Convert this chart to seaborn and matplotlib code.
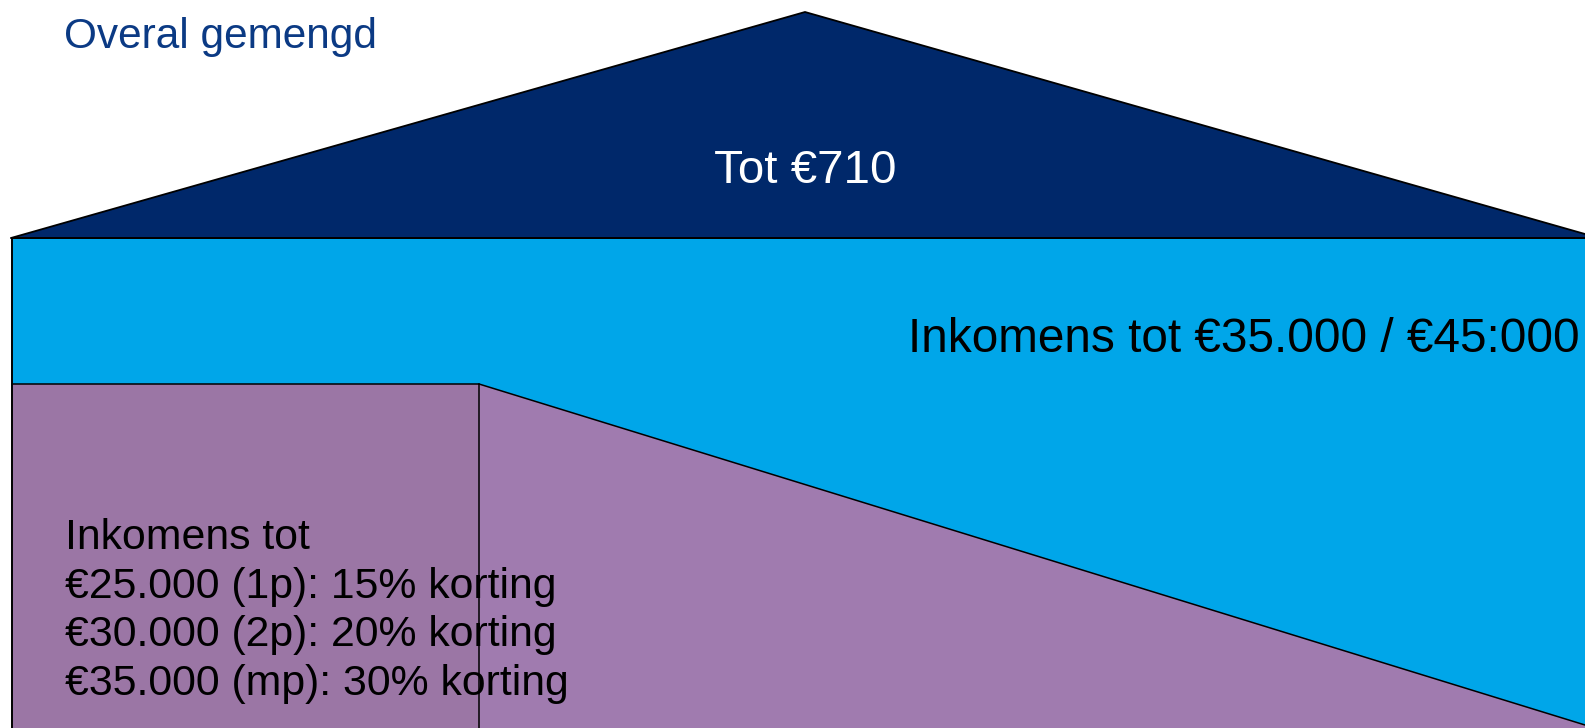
import matplotlib.pyplot as plt
import seaborn as sns

# Diagram layout in picture units (x to the right, y downwards), 1585 x 728
width, height = 1585, 728

# roof (overall mixed segment)
roof_x = [11, 805, 1599]
roof_y = [238, 12, 238]

# middle tier (incomes up to 35k/45k)
band_left = 12
band_top = 238

# lowest tier (discount block + sloped part)
low_split_x = 479
low_top = 384
slope_end_y = 725

title_text = "Overal gemengd"
roof_label = "Tot €710"
band_label = "Inkomens tot €35.000 / €45:000"
low_lines = [
    "Inkomens tot",
    "€25.000 (1p): 15% korting",
    "€30.000 (2p): 20% korting",
    "€35.000 (mp): 30% korting",
]

navy = "#00286A"
sky = "#00A6E9"
purple_left = "#9B76A5"
purple_right = "#A07BAF"
title_color = "#0B3A84"


def draw(ax):
    # middle blue band
    ax.fill([band_left, width, width, band_left],
            [band_top, band_top, height, height], color=sky, lw=0, zorder=1)

    # lower purple areas
    ax.fill([band_left, low_split_x, low_split_x, band_left],
            [low_top, low_top, height, height], color=purple_left, lw=0, zorder=2)
    ax.fill([low_split_x, width, width, low_split_x],
            [low_top, slope_end_y, height, height], color=purple_right, lw=0, zorder=2)

    # roof
    ax.fill(roof_x, roof_y, color=navy, edgecolor="black", lw=1.3, zorder=3)

    # outlines
    line_kw = dict(color="black", lw=1.4, zorder=4)
    ax.plot([band_left - 1, width], [band_top, band_top], **line_kw)
    ax.plot([band_left, band_left], [band_top, height], **line_kw)
    ax.plot([band_left, low_split_x], [low_top, low_top], lw=1.1, color="black", zorder=4)
    ax.plot([low_split_x, low_split_x], [low_top, height], lw=1.1, color="black", zorder=4)
    ax.plot([low_split_x, width], [low_top, slope_end_y], lw=1.1, color="black", zorder=4)

    # texts
    ax.text(64, 37, title_text, color=title_color, fontsize=30.5,
            ha="left", va="center", zorder=5)
    ax.text(roof_x[1], 171, roof_label, color="white", fontsize=34.2,
            ha="center", va="center", zorder=5)
    ax.text(1580, 340, band_label, color="black", fontsize=34.4,
            ha="right", va="center", zorder=5)
    ax.text(65, 695, "\n".join(low_lines), color="black", fontsize=30.75,
            ha="left", va="baseline", linespacing=1.275, zorder=5)


def main():
    sns.set_theme(style="white")
    plt.rcParams["font.family"] = ["Liberation Sans", "DejaVu Sans"]

    fig = plt.figure(figsize=(15.85, 7.28), dpi=100)
    ax = fig.add_axes([0, 0, 1, 1])
    draw(ax)
    ax.set_xlim(0, width)
    ax.set_ylim(height, 0)
    ax.axis("off")
    fig.savefig("out.png", dpi=100, facecolor="white")


if __name__ == "__main__":
    main()
